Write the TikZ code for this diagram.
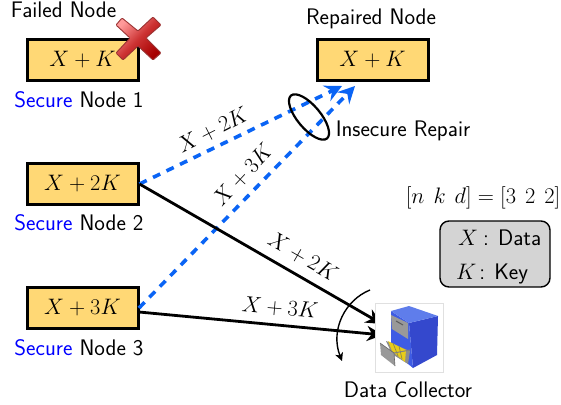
\RequirePackage{fix-cm}
\documentclass[tikz,border=0pt]{standalone}
\usetikzlibrary{arrows.meta,shapes.geometric}
\renewcommand{\familydefault}{\sfdefault}
\definecolor{boxfill}{RGB}{255,216,117}
\definecolor{bluelink}{RGB}{10,100,245}
\definecolor{keygray}{RGB}{212,212,212}
\definecolor{cabfront}{RGB}{62,92,228}
\definecolor{cabside}{RGB}{52,72,205}
\definecolor{cabtop}{RGB}{95,125,235}
\newcommand{\labsize}{\fontsize{22.5}{26}\selectfont}
\newcommand{\mathsz}{\fontsize{22.4}{26}\selectfont}
\tikzset{
  x=1pt,y=-1pt,
  storebox/.style={draw=black,line width=3pt,fill=boxfill,minimum width=111pt,minimum height=41pt,inner sep=0pt,font=\mathsz},
  lab/.style={font=\labsize,inner sep=0pt,anchor=base},
  mlab/.style={font=\mathsz,inner sep=0pt},
  bluearrow/.style={draw=bluelink,line width=3.6pt,dash pattern=on 8pt off 7pt,-{Stealth[length=17pt,width=17pt,inset=6pt,fill=bluelink]}},
  blackarrow/.style={draw=black,line width=2.8pt,-{Stealth[length=16pt,width=15pt,inset=5pt]}},
}
\begin{document}
\begin{tikzpicture}
\useasboundingbox (0,0) rectangle (561,404);
% nodes
\node[storebox] (n1) at (82.5,60) {$X+K$};
\node[storebox] (n2) at (82.5,184) {$X+2K$};
\node[storebox] (n3) at (82.5,308) {$X+3K$};
\node[storebox] (r) at (372.5,60) {$X+K$};
\node[lab] (failed) at (63.5,18) {Failed Node};
\node[lab] (repaired) at (371,25) {Repaired Node};
\node[lab] (s1) at (79,107) {\textcolor{blue}{Secure} Node 1};
\node[lab] (s2) at (79,230) {\textcolor{blue}{Secure} Node 2};
\node[lab] (s3) at (79,355) {\textcolor{blue}{Secure} Node 3};
\node[lab] (insec) at (403,136) {Insecure Repair};
\node[lab] (dc) at (408,397) {Data Collector};
\node[mlab,anchor=east] (param) at (560.5,198) {$[n\ \kern2pt k\ \kern2pt d]=[3\ \kern2pt 2\ \kern2pt 2]$};
\node[draw=black,line width=1.4pt,fill=keygray,rounded corners=9pt,minimum width=110pt,minimum height=66pt] (legend) at (495,254) {};
\node[mlab,anchor=base west] (lx) at (458,245) {$X$\hspace{5pt}:\hspace{9pt}\labsize Data};
\node[mlab,anchor=base west] (lk) at (456,279) {$K$\hspace{3pt}:\hspace{9pt}\labsize Key};
% connector end points
\coordinate (t1) at (342,86);
\coordinate (t2) at (355,86);
\coordinate (t3) at (382,324);
\coordinate (t4) at (383,335);
\coordinate (s3a) at (139,308);
\coordinate (s3b) at (139,312);
% blue repair links
\draw[bluearrow] (n2.east) -- (t1);
\draw[bluearrow] (s3a) -- (t2);
% black links
\draw[blackarrow] (n2.east) -- (t3);
\draw[blackarrow] (s3b) -- (t4);
% link labels
\node[mlab,rotate=27] (a) at (213,130) {$X+2K$};
\node[mlab,rotate=47] (b) at (243,175) {$X+3K$};
\node[mlab,rotate=-30] (c) at (303,257) {$X+2K$};
\node[mlab,rotate=-5] (d) at (280,308) {$X+3K$};
% ellipse
\node[draw=black,line width=2.2pt,ellipse,rotate=-50,minimum width=56pt,minimum height=23pt,inner sep=0pt] (cut) at (309,117) {};
% cut arc
\coordinate (c1) at (370,290);
\coordinate (c2) at (342,361);
\draw[black,line width=1.4pt,-{Stealth[length=8pt,width=8pt,inset=2pt]}] (c1) .. controls (345,300) and (330,330) .. (c2);
% file cabinet
\draw[black!12,line width=.6pt,fill=white] (375,303) rectangle (443,372);
\fill[cabside] (409,323) -- (438,316) -- (437,355) -- (413,368) -- cycle;
\fill[cabfront] (391,311) -- (409,323) -- (413,368) -- (391,350) -- cycle;
\fill[cabtop] (391,311) -- (409,306) -- (438,316) -- (409,323) -- cycle;
\fill[black!40] (391,315) -- (408,323) -- (408,339) -- (392,329) -- cycle;
\draw[black!65,line width=1pt] (396,321) -- (403,325);
\fill[black!45] (386,341) -- (410,351) -- (408,364) -- (392,354) -- cycle;
\fill[yellow!80!orange!90!black] (388,341) -- (406,350) -- (405,362) -- (392,351) -- cycle;
\draw[yellow!50!black,line width=.7pt] (393,343) -- (398,356) (399,346) -- (402,359);
\fill[black!40] (380,343) -- (394,353) -- (395,366) -- (381,355) -- cycle;
\draw[black!60,line width=.6pt] (380,343) -- (394,353) -- (395,366);
\draw[black!50,line width=1pt] (394,353) -- (410,350);
% red cross
\path[draw=red!50!black!80,line width=.9pt,rounded corners=1pt,top color=red!40!white,bottom color=red!65!black,middle color=red!60!gray,shading angle=45]
  (122,18) -- (138,31) -- (153,17) -- (161,25) -- (146,38) -- (161,53) -- (153,60) -- (138,46) -- (123,60) -- (116,53) -- (130,38) -- (116,25) -- cycle;
\end{tikzpicture}
\end{document}
